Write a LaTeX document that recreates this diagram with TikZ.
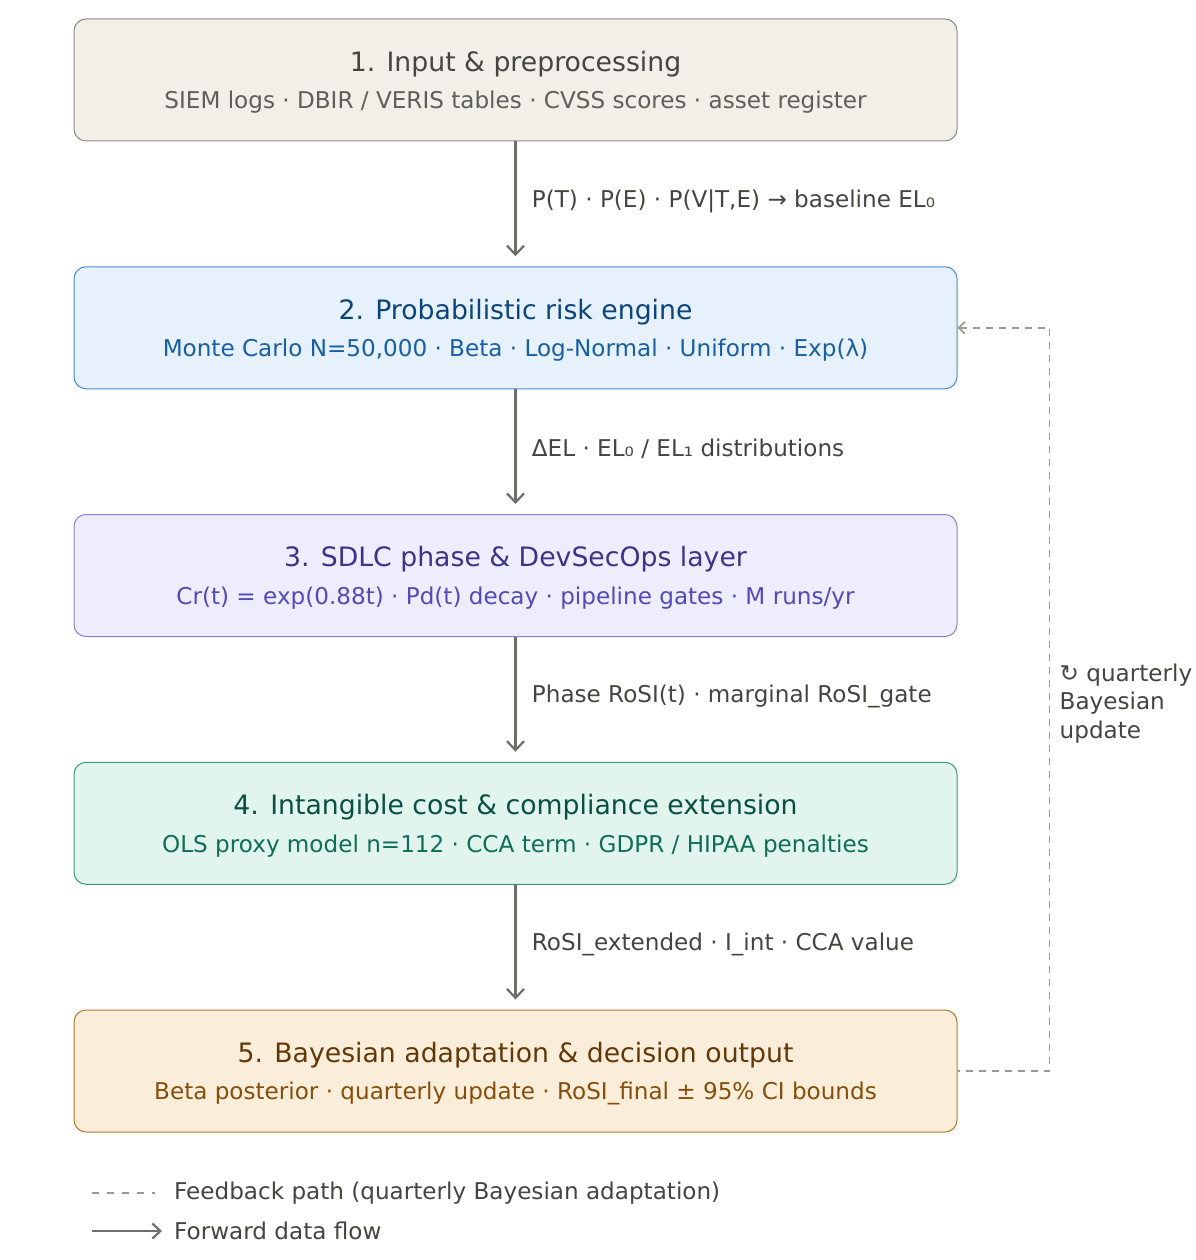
\documentclass[tikz,border=0pt]{standalone}
\usepackage{fontspec}
\setmainfont{DejaVu Sans}
\usetikzlibrary{calc,arrows.meta,positioning}

\begin{document}
\begin{tikzpicture}[x=1pt, y=1pt,
    >={Straight Barb[length=9pt, width=17pt]},
    stage/.style={rounded corners=12pt, minimum width=883pt, minimum height=122pt,
        line width=1pt, align=center, inner sep=0pt, font=\subSize},
    flow/.style={->, line width=2.2pt, draw=flowCol, shorten >=10pt},
    flowlabel/.style={pos=0.48, right=12pt, text=labelCol, font=\subSize},
    feedback/.style={line width=1.8pt, draw=fbCol, dash pattern=on 7pt off 6pt}]
    % Parameters
    \def\titleSize{\fontsize{26.7}{32}\selectfont\rule{0pt}{25pt}}
    \def\subSize{\fontsize{23.1}{28.5}\selectfont}
    \def\gap{124.75pt}  % Space between stages
    \def\fbX{92}        % Feedback line offset

    % Colors
    \definecolor{flowCol}{HTML}{6E6E6C}
    \definecolor{labelCol}{HTML}{444441}
    \definecolor{fbCol}{HTML}{9A9A98}
    \definecolor{inFill}{HTML}{F1EFE8}   \definecolor{inLine}{HTML}{8A8984}
    \definecolor{inTitle}{HTML}{444441}  \definecolor{inSub}{HTML}{5F5E5A}
    \definecolor{rkFill}{HTML}{E6F1FB}   \definecolor{rkLine}{HTML}{4A8BC9}
    \definecolor{rkTitle}{HTML}{0C447C}  \definecolor{rkSub}{HTML}{185FA5}
    \definecolor{sdFill}{HTML}{EEEDFE}   \definecolor{sdLine}{HTML}{8A82D6}
    \definecolor{sdTitle}{HTML}{3C3489}  \definecolor{sdSub}{HTML}{534AB7}
    \definecolor{icFill}{HTML}{E1F5EE}   \definecolor{icLine}{HTML}{3A9A7C}
    \definecolor{icTitle}{HTML}{085041}  \definecolor{icSub}{HTML}{0F6E56}
    \definecolor{byFill}{HTML}{FAEEDA}   \definecolor{byLine}{HTML}{B07A2E}
    \definecolor{byTitle}{HTML}{633806}  \definecolor{bySub}{HTML}{854F0B}

    \useasboundingbox (0,0) rectangle (1195,-1260);

    % Stages
    \node[stage, fill=inFill, draw=inLine] (input) at (515.5,-80)
        {{\titleSize\color{inTitle}1. Input \& preprocessing}\\[9pt]
         {\color{inSub}SIEM logs · DBIR / VERIS tables · CVSS scores · asset register}};
    \node[stage, fill=rkFill, draw=rkLine, below=\gap of input] (engine)
        {{\titleSize\color{rkTitle}2. Probabilistic risk engine}\\[9pt]
         {\color{rkSub}Monte Carlo N=50,000 · Beta · Log-Normal · Uniform · Exp(λ)}};
    \node[stage, fill=sdFill, draw=sdLine, below=\gap of engine] (sdlc)
        {{\titleSize\color{sdTitle}3. SDLC phase \& DevSecOps layer}\\[9pt]
         {\color{sdSub}Cr(t) = exp(0.88t) · Pd(t) decay · pipeline gates · M runs/yr}};
    \node[stage, fill=icFill, draw=icLine, below=\gap of sdlc] (intang)
        {{\titleSize\color{icTitle}4. Intangible cost \& compliance extension}\\[9pt]
         {\color{icSub}OLS proxy model n=112 · CCA term · GDPR / HIPAA penalties}};
    \node[stage, fill=byFill, draw=byLine, below=\gap of intang] (bayes)
        {{\titleSize\color{byTitle}5. Bayesian adaptation \& decision output}\\[9pt]
         {\color{bySub}Beta posterior · quarterly update · RoSI\_final ± 95\% CI bounds}};

    % Forward flow
    \draw[flow] (input) -- (engine)
        node[flowlabel] {P(T) · P(E) · P(V|T,E) → baseline EL₀};
    \draw[flow] (engine) -- (sdlc)
        node[flowlabel] {ΔEL · EL₀ / EL₁ distributions};
    \draw[flow] (sdlc) -- (intang)
        node[flowlabel] {Phase RoSI(t) · marginal RoSI\_gate};
    \draw[flow] (intang) -- (bayes)
        node[flowlabel] {RoSI\_extended · I\_int · CCA value};

    % Feedback path
    \coordinate (fbR) at ($(bayes.east)+(\fbX,0)$);
    \coordinate (fbMid) at ($(sdlc.south)!0.5!(intang.north)$);
    \draw[feedback, <-, >={Straight Barb[length=6pt, width=12pt]}]
        (engine.east) -| (fbR) -- (bayes.east);
    \node[anchor=west, align=left, text=labelCol, font=\subSize, inner sep=0pt]
        (fbLabel) at ($(fbMid -| fbR)+(10,-4)$)
        {↻ quarterly\\Bayesian\\update};

    % Legend
    \coordinate (legA) at (92,-1193);
    \coordinate (legB) at (92,-1231);
    \node[anchor=west, text=labelCol, font=\subSize, inner sep=0pt] (legFb) at (174,-1193)
        {Feedback path (quarterly Bayesian adaptation)};
    \node[anchor=west, text=labelCol, font=\subSize, inner sep=0pt] (legFw) at (174,-1231)
        {Forward data flow};
    \draw[feedback, line width=1.5pt, dash pattern=on 7pt off 8pt, shorten >=19pt]
        (legA) -- (legFb.west);
    \draw[flow, shorten >=12pt, >={Straight Barb[length=8pt, width=15pt]}]
        (legB) -- (legFw.west);
\end{tikzpicture}
\end{document}
